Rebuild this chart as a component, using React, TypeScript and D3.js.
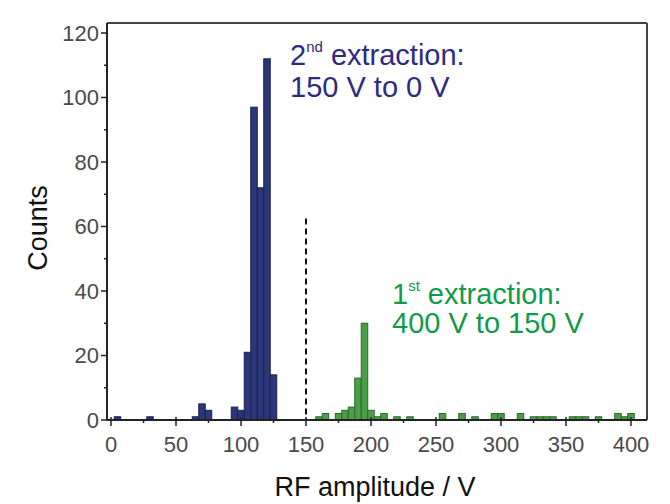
import React from "react";
import * as d3 from "d3";

const binWidth = 5;
const blueCenters = [5, 30, 65, 70, 75, 95, 100, 105, 110, 115, 120, 125];
const blueCounts = [1, 1, 1, 5, 3, 4, 3, 21, 97, 72, 112, 14];
const greenCenters = [160, 165, 175, 180, 185, 190, 195, 200, 205, 210, 220, 230, 255, 270, 280, 295, 300, 315, 325, 330, 335, 340, 355, 360, 365, 375, 390, 395, 400];
const greenCounts = [1, 2, 2, 3, 4, 13, 30, 3, 1, 2, 1, 1, 2, 2, 1, 2, 2, 2, 1, 1, 1, 1, 1, 1, 1, 1, 2, 1, 2];
const xTicks = [0, 50, 100, 150, 200, 250, 300, 350, 400];
const xMinorTicks = [25, 75, 125, 175, 225, 275, 325, 375];
const yTicks = [0, 20, 40, 60, 80, 100, 120];
const yMinorTicks = [10, 30, 50, 70, 90, 110];
const dividerValue = 150;
const dividerTop = 62.5;

export default function App() {
  const W = 670, H = 504;
  const x = d3.scaleLinear().domain([0, 400]).range([111, 631]);
  const y = d3.scaleLinear().domain([0, 120]).range([420, 33]);
  const left = 107, right = 647, top = 23, bottom = 420;
  const font = "Liberation Sans, Arial, sans-serif";
  const blue = blueCenters.map((c, i) => ({ c, v: blueCounts[i] }));
  const green = greenCenters.map((c, i) => ({ c, v: greenCounts[i] }));
  const bar = (d: { c: number; v: number }, fill: string, stroke: string, k: string) => (
    <rect key={k} x={x(d.c - binWidth / 2)} y={y(d.v)} width={x(d.c + binWidth / 2) - x(d.c - binWidth / 2)} height={y(0) - y(d.v)} fill={fill} stroke={stroke} strokeWidth={1} />
  );
  return (
    <svg width={W} height={H} style={{ position: "absolute", left: 0, top: 0, background: "#fff" }}>
      <rect x={0} y={0} width={W} height={H} fill="#fff" />
      {blue.map((d, i) => bar(d, "#2a3677", "#1b2150", "b" + i))}
      {green.map((d, i) => bar(d, "#4b9e48", "#2c672c", "g" + i))}
      <line x1={x(dividerValue)} x2={x(dividerValue)} y1={y(dividerTop)} y2={y(0)} stroke="#111" strokeWidth={2} strokeDasharray="6,4" />
      <line x1={left} x2={right} y1={top} y2={top} stroke="#444" strokeWidth={2} />
      <line x1={right} x2={right} y1={top} y2={bottom} stroke="#444" strokeWidth={2} />
      <line x1={left} x2={left} y1={top} y2={bottom} stroke="#222" strokeWidth={2} />
      <line x1={left} x2={right} y1={bottom} y2={bottom} stroke="#222" strokeWidth={2} />
      {yTicks.map(t => (
        <g key={"yt" + t}>
          <line x1={left - 6} x2={left} y1={y(t)} y2={y(t)} stroke="#222" strokeWidth={1.5} />
          <text x={left - 8} y={y(t) + 7.5} textAnchor="end" fontFamily={font} fontSize={22} fill="#4a4a4a">{t}</text>
        </g>
      ))}
      {yMinorTicks.map(t => (
        <line key={"ym" + t} x1={left - 3} x2={left} y1={y(t)} y2={y(t)} stroke="#222" strokeWidth={1.5} />
      ))}
      {xTicks.map(t => (
        <g key={"xt" + t}>
          <line x1={x(t)} x2={x(t)} y1={bottom - 3} y2={bottom + 6} stroke="#222" strokeWidth={1.5} />
          <text x={x(t)} y={452} textAnchor="middle" fontFamily={font} fontSize={22} fill="#4a4a4a">{t}</text>
        </g>
      ))}
      {xMinorTicks.map(t => (
        <line key={"xm" + t} x1={x(t)} x2={x(t)} y1={bottom} y2={bottom + 3} stroke="#222" strokeWidth={1.5} />
      ))}
      <text x={375} y={496} textAnchor="middle" fontFamily={font} fontSize={27} fill="#111">RF amplitude / V</text>
      <text transform="translate(47,228) rotate(-90)" textAnchor="middle" fontFamily={font} fontSize={27} fill="#111">Counts</text>
      <text x={290} y={65} fontFamily={font} fontSize={29} fill="#2d2a7f">2<tspan fontSize={15} dy={-13}>nd</tspan><tspan dy={13}> extraction:</tspan></text>
      <text x={290} y={97} fontFamily={font} fontSize={29} fill="#2d2a7f">150 V to 0 V</text>
      <text x={392} y={304} fontFamily={font} fontSize={29} fill="#119a48">1<tspan fontSize={15} dy={-13}>st</tspan><tspan dy={13}> extraction:</tspan></text>
      <text x={392} y={333} fontFamily={font} fontSize={29} fill="#119a48">400 V to 150 V</text>
    </svg>
  );
}
